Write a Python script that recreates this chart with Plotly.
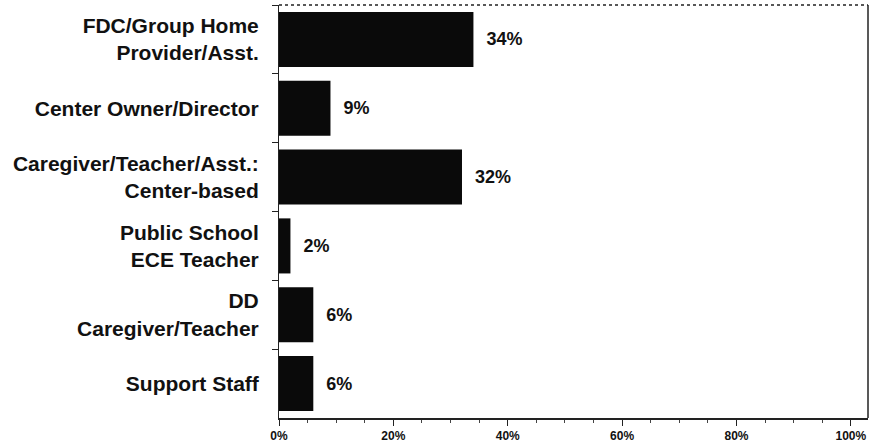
import plotly.graph_objects as go

categories = [
    "FDC/Group Home<br>Provider/Asst.",
    "Center Owner/Director",
    "Caregiver/Teacher/Asst.:<br>Center-based",
    "Public School<br>ECE Teacher",
    "DD<br>Caregiver/Teacher",
    "Support Staff",
]
values = [34, 9, 32, 2, 6, 6]
value_labels = ["34%", "9%", "32%", "2%", "6%", "6%"]
tick_vals = [0, 20, 40, 60, 80, 100]
tick_text = ["0%", "20%", "40%", "60%", "80%", "100%"]

FONT = "Liberation Sans"

fig = go.Figure(go.Bar(
    x=values, y=categories, orientation="h",
    marker=dict(color="#0a0a0a", line=dict(width=0)),
    text=value_labels, texttemplate="\u00a0\u00a0%{text}", textposition="outside",
    textfont=dict(family=FONT, size=18, color="#111111", weight="bold"),
    cliponaxis=False,
))

fig.update_layout(
    width=877, height=448,
    margin=dict(l=279, r=9, t=5, b=30, autoexpand=False),
    paper_bgcolor="white", plot_bgcolor="white",
    bargap=0.2,
    showlegend=False,
    font=dict(family=FONT, color="#111111"),
    shapes=[
        dict(type="line", xref="paper", yref="paper", x0=0, x1=1, y0=1, y1=1,
             line=dict(color="#222222", width=1.5, dash="dot")),
        dict(type="line", xref="paper", yref="paper", x0=1, x1=1, y0=0, y1=1,
             line=dict(color="#222222", width=1.5)),
    ],
)

fig.update_xaxes(
    range=[0, 103], tickvals=tick_vals, ticktext=tick_text,
    showgrid=False, zeroline=False,
    showline=True, linecolor="#222222", linewidth=1.5,
    ticks="outside", ticklen=6, tickcolor="#222222",
    minor=dict(dtick=5, ticks="outside", ticklen=3, tickcolor="#444444"),
    tickfont=dict(family=FONT, size=12, color="#111111", weight="bold"),
)
fig.update_yaxes(
    autorange="reversed",
    showgrid=False, zeroline=False,
    showline=True, linecolor="#222222", linewidth=1,
    ticks="outside", tickson="boundaries", ticklen=6, tickcolor="#222222",
    ticklabelstandoff=15,
    tickfont=dict(family=FONT, size=21, color="#111111", weight="bold"),
)

fig.write_html("out.html", config={"displayModeBar": False})
with open("out.html", encoding="utf-8") as f:
    html = f.read()
html = html.replace("<head>", "<head><style>html,body{margin:0;padding:0;overflow:hidden;}</style>", 1)
with open("out.html", "w", encoding="utf-8") as f:
    f.write(html)
